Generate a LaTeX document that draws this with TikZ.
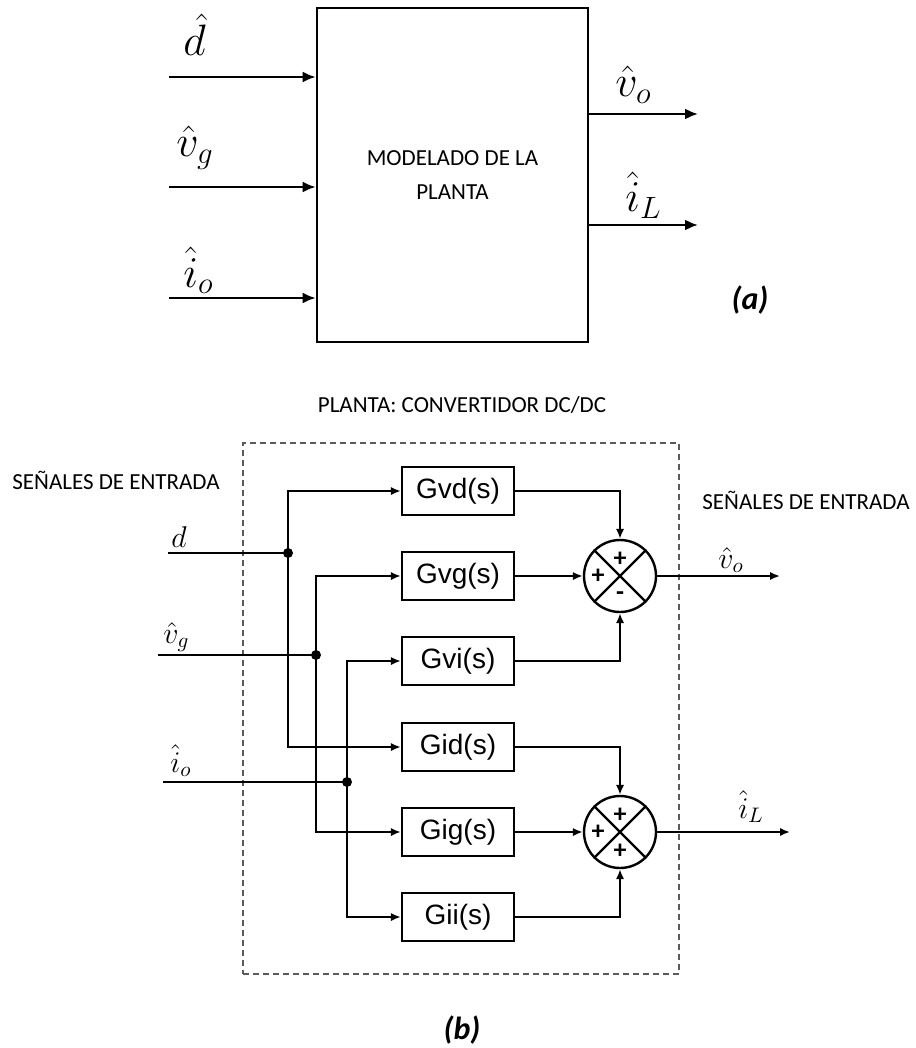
\RequirePackage{fix-cm}
\documentclass[tikz,border=0pt]{standalone}
\usepackage{amsmath}
\usepackage{fontspec}
\setsansfont{Carlito}
\newfontfamily\blockfont{Liberation Sans}
\usetikzlibrary{arrows.meta,calc}
\definecolor{Ink}{HTML}{000000}
\definecolor{FrameGray}{HTML}{5A5A5A}

\begin{document}
\begin{tikzpicture}[x=0.5pt,y=-0.5pt,>=Latex,
    wire/.style={Ink,line width=1.1pt},
    arr/.style={wire,-{Latex[length=5pt,width=4.2pt]}},
    bigarr/.style={wire,-{Latex[length=6.5pt,width=5.5pt]}},
    blk/.style={draw=Ink,line width=1.2pt,minimum width=56pt,minimum height=24pt,
                inner sep=0pt,font=\blockfont\fontsize{14}{16}\selectfont},
    sumnode/.style={draw=Ink,circle,line width=1.2pt,minimum size=36pt,inner sep=0pt},
    sgn/.style={font=\sffamily\bfseries\fontsize{13}{13}\selectfont,inner sep=0pt},
    dot/.style={circle,fill=Ink,inner sep=0pt,minimum size=5pt},
    caps/.style={font=\sffamily\fontsize{11.5}{14}\selectfont,inner sep=0pt},
    sigA/.style={font=\fontsize{22}{26}\selectfont,inner sep=0pt,anchor=base west},
    sigB/.style={font=\fontsize{15}{18}\selectfont,inner sep=0pt,anchor=base west},
    tag/.style={font=\sffamily\bfseries\itshape\fontsize{16}{18}\selectfont,inner sep=0pt}]
  \useasboundingbox (0,0) rectangle (915,1048);

  % (a) plant as one block
  \node[draw=Ink,line width=1.4pt,minimum width=135.5pt,minimum height=167pt,
        caps,align=center] (plant) at (452.5,175) {MODELADO DE LA\\[3pt]PLANTA};
  \coordinate (dA) at (169,77);
  \coordinate (vgA) at (169,187);
  \coordinate (ioA) at (169,298);
  \coordinate (voA) at (698,114);
  \coordinate (iLA) at (698,225);
  \foreach \c in {dA,vgA,ioA}
    \draw[bigarr] (\c) -- (\c -| plant.west);
  \foreach \c in {voA,iLA}
    \draw[bigarr] (\c -| plant.east) -- (\c);
  \node[sigA] (lbdA) at (183,56) {$\hat{d}$};
  \node[sigA] (lbvgA) at (176,157) {$\hat{v}_g$};
  \node[sigA] (lbioA) at (183,287) {$\hat{i}_o$};
  \node[sigA] (lbvoA) at (615,97) {$\hat{v}_o$};
  \node[sigA] (lbiLA) at (625,212) {$\hat{i}_L$};
  \node[tag] (taga) at (750,300) {(a)};

  % (b) transfer functions
  \node[caps] (title) at (462,405) {PLANTA: CONVERTIDOR DC/DC};
  \node[draw=FrameGray,line width=0.8pt,dash pattern=on 3pt off 2pt,
        minimum width=218pt,minimum height=265.5pt] (frame) at (461,708.5) {};
  \node[caps,anchor=east] (inlbl) at (220,480) {SEÑALES DE ENTRADA};
  \node[caps,anchor=west] (outlbl) at (702,500) {SEÑALES DE ENTRADA};

  \node[blk] (gvd) at (458,491) {Gvd(s)};
  \node[blk] (gvg) at (458,576) {Gvg(s)};
  \node[blk] (gvi) at (458,661) {Gvi(s)};
  \node[blk] (gid) at (458,747) {Gid(s)};
  \node[blk] (gig) at (458,832) {Gig(s)};
  \node[blk] (gii) at (458,917) {Gii(s)};

  \node[sumnode] (s1) at (620,576) {};
  \node[sumnode] (s2) at (620,832) {};
  \foreach \s in {s1,s2}{
    \draw[Ink,line width=1.2pt] (\s.north west) -- (\s.south east);
    \draw[Ink,line width=1.2pt] (\s.north east) -- (\s.south west);
  }
  \node[sgn] at ([yshift=8.5pt]s1.center) {+};
  \node[sgn] at ([xshift=-11pt]s1.center) {+};
  \node[sgn] at ([yshift=-10pt]s1.center) {-};
  \node[sgn] at ([yshift=8.5pt]s2.center) {+};
  \node[sgn] at ([xshift=-11pt]s2.center) {+};
  \node[sgn] at ([yshift=-9.5pt]s2.center) {+};

  % inputs and branch points
  \coordinate (dB) at (168,553);
  \coordinate (vgB) at (158,655);
  \coordinate (ioB) at (163,782);
  \node[dot] (jd) at (288,553) {};
  \node[dot] (jvg) at (316,655) {};
  \node[dot] (jio) at (347,782) {};
  \draw[wire] (dB) -- (jd.center);
  \draw[wire] (vgB) -- (jvg.center);
  \draw[wire] (ioB) -- (jio.center);
  \draw[arr] (jd.center) |- (gvd.west);
  \draw[arr] (jd.center) |- (gid.west);
  \draw[arr] (jvg.center) |- (gvg.west);
  \draw[arr] (jvg.center) |- (gig.west);
  \draw[arr] (jio.center) |- (gvi.west);
  \draw[arr] (jio.center) |- (gii.west);

  % blocks to summing points
  \draw[arr] (gvd.east) -| (s1.north);
  \draw[arr] (gvg.east) -- (s1.west);
  \draw[arr] (gvi.east) -| (s1.south);
  \draw[arr] (gid.east) -| (s2.north);
  \draw[arr] (gig.east) -- (s2.west);
  \draw[arr] (gii.east) -| (s2.south);
  \coordinate (voB) at (780,576);
  \coordinate (iLB) at (790,832);
  \draw[arr] (s1.east) -- (voB);
  \draw[arr] (s2.east) -- (iLB);

  \node[sigB] (lbdB) at (171,547) {$d$};
  \node[sigB] (lbvgB) at (163,643) {$\hat{v}_g$};
  \node[sigB] (lbioB) at (170,772) {$\hat{i}_o$};
  \node[sigB] (lbvoB) at (718,568) {$\hat{v}_o$};
  \node[sigB] (lbiLB) at (738,818) {$\hat{i}_L$};
  \node[tag] (tagb) at (462,1030) {(b)};
\end{tikzpicture}
\end{document}
